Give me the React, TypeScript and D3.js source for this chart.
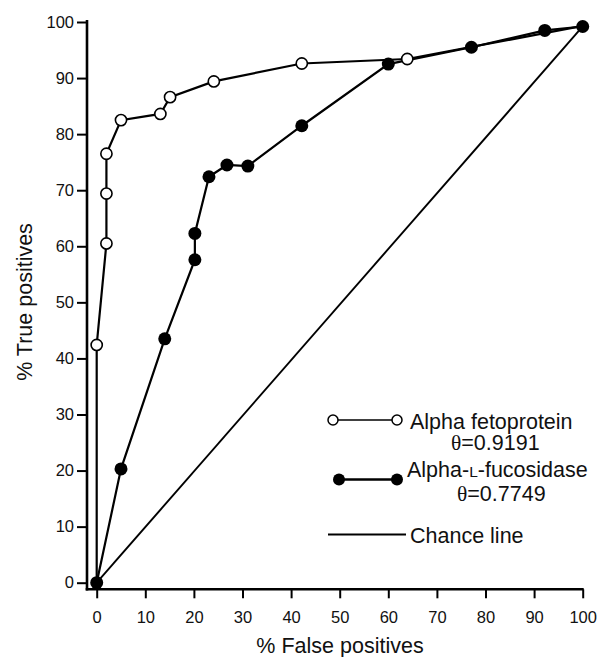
import React, { useEffect, useRef } from "react";
import * as d3 from "d3";

// ROC data (% false positives, % true positives)
const afpFalsePos = [0, 0, 2, 2, 2, 5, 13.1, 15.1, 24.1, 42.2, 63.9, 100];
const afpTruePos = [0, 42.4, 60.5, 69.4, 76.5, 82.5, 83.6, 86.6, 89.4, 92.6, 93.4, 99.3];
const fucFalsePos = [0, 5, 14, 20.2, 20.2, 23.1, 26.8, 31.1, 42.2, 60, 77.1, 92.2, 100];
const fucTruePos = [0, 20.3, 43.5, 57.6, 62.3, 72.4, 74.5, 74.3, 81.5, 92.5, 95.5, 98.5, 99.2];
const chanceFalsePos = [0, 100];
const chanceTruePos = [0, 99.2];

const xTicks = [0, 10, 20, 30, 40, 50, 60, 70, 80, 90, 100];
const yTicks = [0, 10, 20, 30, 40, 50, 60, 70, 80, 90, 100];
const seriesNames = ["Alpha fetoprotein", "Alpha-", "L", "-fucosidase", "Chance line"];
const thetaValues = ["0.9191", "0.7749"];

const W = 612, H = 657;
const FONT = "'Liberation Sans', Arial, Helvetica, sans-serif";

function App() {
  const ref = useRef<SVGSVGElement>(null);

  useEffect(() => {
    const svg = d3.select(ref.current);
    svg.selectAll("*").remove();

    const x = d3.scaleLinear().domain([0, 100]).range([96.7, 582.7]);
    const y = d3.scaleLinear().domain([0, 100]).range([582.7, 22]);
    const axisX = 87, axisY = 589.3;

    const afp = afpFalsePos.map((d, i) => [d, afpTruePos[i]] as [number, number]);
    const fuc = fucFalsePos.map((d, i) => [d, fucTruePos[i]] as [number, number]);
    const chance = chanceFalsePos.map((d, i) => [d, chanceTruePos[i]] as [number, number]);

    // axes
    const yAxis = d3.axisLeft(y).tickValues(yTicks).tickSize(10).tickSizeOuter(0).tickPadding(3);
    const gy = svg.append("g").attr("transform", `translate(${axisX},0)`).call(yAxis);
    gy.select(".domain").remove();
    gy.selectAll("line").attr("stroke", "#000").attr("stroke-width", 2);
    gy.selectAll("text").attr("font-family", FONT).attr("font-size", 16.5).attr("fill", "#111");

    const xAxis = d3.axisBottom(x).tickValues(xTicks).tickSize(9).tickSizeOuter(0).tickPadding(13);
    const gx = svg.append("g").attr("transform", `translate(0,${axisY})`).call(xAxis);
    gx.select(".domain").remove();
    gx.selectAll("line").attr("stroke", "#000").attr("stroke-width", 2);
    gx.selectAll("text").attr("font-family", FONT).attr("font-size", 16.5).attr("fill", "#111");

    svg.append("line").attr("x1", axisX).attr("x2", axisX).attr("y1", 20).attr("y2", axisY + 1.2)
      .attr("stroke", "#000").attr("stroke-width", 2.6);
    svg.append("line").attr("x1", axisX - 1.3).attr("x2", x(100) + 1).attr("y1", axisY).attr("y2", axisY)
      .attr("stroke", "#000").attr("stroke-width", 2.6);

    // titles
    svg.append("text").attr("x", 340).attr("y", 653).attr("text-anchor", "middle")
      .attr("font-family", FONT).attr("font-size", 21.5).attr("fill", "#111").text("% False positives");
    svg.append("text").attr("transform", "translate(32,302) rotate(-90)").attr("text-anchor", "middle")
      .attr("font-family", FONT).attr("font-size", 21.5).attr("fill", "#111").text("% True positives");

    const line = d3.line<[number, number]>().x(d => x(d[0])).y(d => y(d[1]));

    svg.append("path").attr("d", line(chance)).attr("fill", "none").attr("stroke", "#000").attr("stroke-width", 1.9);
    svg.append("path").attr("d", line(fuc)).attr("fill", "none").attr("stroke", "#000").attr("stroke-width", 2.2);
    svg.append("path").attr("d", line(afp)).attr("fill", "none").attr("stroke", "#000").attr("stroke-width", 2.2);

    svg.selectAll(".afp_pt").data(afp.slice(1, -1)).join("circle").attr("class", "afp_pt")
      .attr("cx", d => x(d[0])).attr("cy", d => y(d[1])).attr("r", 5.6)
      .attr("fill", "#fff").attr("stroke", "#000").attr("stroke-width", 1.6);
    svg.selectAll(".fuc_pt").data(fuc).join("circle").attr("class", "fuc_pt")
      .attr("cx", d => x(d[0])).attr("cy", d => y(d[1])).attr("r", 6.5).attr("fill", "#000");

    // legend
    const lg = svg.append("g").attr("font-family", FONT).attr("font-size", 21.5).attr("fill", "#111");
    lg.append("line").attr("x1", 333).attr("x2", 397).attr("y1", 420).attr("y2", 420).attr("stroke", "#000").attr("stroke-width", 1.6);
    [333, 397].forEach(cx => lg.append("circle").attr("cx", cx).attr("cy", 420).attr("r", 5)
      .attr("fill", "#fff").attr("stroke", "#000").attr("stroke-width", 1.5));
    lg.append("text").attr("x", 410).attr("y", 428.5).text(seriesNames[0]);
    const t1 = lg.append("text").attr("x", 451).attr("y", 450);
    t1.append("tspan").attr("font-family", "'Liberation Serif', serif").text("θ");
    t1.append("tspan").text("=" + thetaValues[0]);

    lg.append("line").attr("x1", 339).attr("x2", 397).attr("y1", 479.5).attr("y2", 479.5).attr("stroke", "#000").attr("stroke-width", 2.4);
    [339, 397].forEach(cx => lg.append("circle").attr("cx", cx).attr("cy", 479.5).attr("r", 6).attr("fill", "#000"));
    const t2 = lg.append("text").attr("x", 407).attr("y", 477);
    t2.append("tspan").text(seriesNames[1]);
    t2.append("tspan").attr("font-size", 15.5).text(seriesNames[2]);
    t2.append("tspan").text(seriesNames[3]);
    const t3 = lg.append("text").attr("x", 457).attr("y", 500.5);
    t3.append("tspan").attr("font-family", "'Liberation Serif', serif").text("θ");
    t3.append("tspan").text("=" + thetaValues[1]);

    lg.append("line").attr("x1", 328).attr("x2", 406).attr("y1", 534.5).attr("y2", 534.5).attr("stroke", "#000").attr("stroke-width", 1.9);
    lg.append("text").attr("x", 410).attr("y", 543).text(seriesNames[4]);
  }, []);

  return (
    <svg ref={ref} width={W} height={H}
      style={{ position: "absolute", left: 0, top: 0, background: "#fff" }} />
  );
}

export default App;
